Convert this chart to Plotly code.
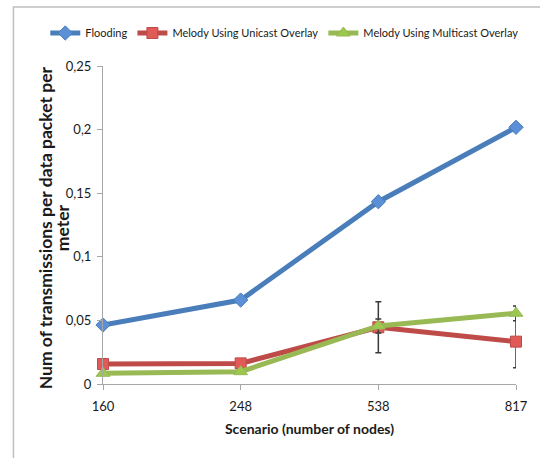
import plotly.graph_objects as go

categories = ["160", "248", "538", "817"]
flooding = [0.0464, 0.066, 0.1433, 0.2018]
flooding_err = [0.0, 0.0, 0.0, 0.003]
unicast = [0.0157, 0.0162, 0.0446, 0.0333]
unicast_err = [0.0, 0.0, 0.020, 0.0205]
multicast = [0.0084, 0.0097, 0.0456, 0.0556]
multicast_err = [0.0, 0.0, 0.0055, 0.0058]
y_tickvals = [0, 0.05, 0.1, 0.15, 0.2, 0.25]
y_ticktext = ["0", "0,05", "0,1", "0,15", "0,2", "0,25"]
y_title_lines = ["Num of transmissions per data packet per", "meter"]
x_title = "Scenario (number of nodes)"

W, H = 540, 458
L, R, T, B = 103, 22, 66, 74
pw, ph = W - L - R, H - T - B

FONT = "Lato"

def px_x(x):
    return (x - L) / pw

def px_y(y):
    return (H - B - y) / ph

def series(name, y, err, line_color, marker_color, symbol, size):
    return go.Scatter(
        x=categories, y=y, name=name, mode="lines+markers",
        line=dict(color=line_color, width=5),
        marker=dict(color=marker_color, symbol=symbol, size=size,
                    line=dict(color=line_color, width=1)),
        error_y=dict(type="data", array=err, visible=True,
                     color="#3a3a3a", thickness=1.5, width=3),
        cliponaxis=False,
    )

fig = go.Figure()
fig.add_trace(series("Flooding", flooding, flooding_err, "#4a7ebb", "#5b8fd6", "diamond", 11))
fig.add_trace(series("Melody Using Unicast Overlay", unicast, unicast_err, "#be4b48", "#e05a58", "square", 11))
fig.add_trace(series("Melody Using Multicast Overlay", multicast, multicast_err, "#98b954", "#9bc94f", "triangle-up", 12))

fig.update_layout(
    width=W, height=H,
    margin=dict(l=L, r=R, t=T, b=B),
    paper_bgcolor="white", plot_bgcolor="white",
    font=dict(family=FONT, size=12, color="#1a1a1a"),
    showlegend=True,
    legend=dict(orientation="h", xref="paper", yref="paper",
                x=px_x(45), xanchor="left", y=px_y(33), yanchor="middle",
                font=dict(family=FONT, size=11, color="#1a1a1a"), itemwidth=30, tracegroupgap=0,
                bgcolor="rgba(0,0,0,0)"),
    xaxis=dict(type="category", range=[0, 3], showgrid=False, zeroline=False,
               showline=True, linecolor="#a6a6a6", linewidth=1,
               ticks="outside", ticklen=5, tickcolor="#a6a6a6",
               ticklabelstandoff=5,
               tickfont=dict(family=FONT, size=13, color="#1a1a1a"),
               title=dict(text="<b>" + x_title + "</b>", font=dict(family=FONT, size=14, color="#1a1a1a"), standoff=11)),
    yaxis=dict(range=[0, 0.25], showgrid=False, zeroline=False,
               showline=True, linecolor="#a6a6a6", linewidth=1,
               ticks="outside", ticklen=5, tickcolor="#a6a6a6",
               ticklabelstandoff=3,
               tickvals=y_tickvals, ticktext=y_ticktext,
               tickfont=dict(family=FONT, size=13, color="#1a1a1a")),
)

for line_text, xpx in zip(y_title_lines, [45, 62]):
    fig.add_annotation(
        text="<b>" + line_text + "</b>",
        textangle=-90, xref="paper", yref="paper",
        x=px_x(xpx), y=px_y(228), xanchor="center", yanchor="middle",
        showarrow=False, font=dict(family=FONT, size=17.5, color="#1a1a1a"),
    )

# outer chart frame (cropped on right and bottom)
fig.add_shape(type="rect", xref="paper", yref="paper",
              x0=px_x(13), x1=px_x(560),
              y0=px_y(470), y1=px_y(7),
              line=dict(color="#bfbfbf", width=1.5), layer="below")

fig.write_html(
    "out.html",
    config={"displayModeBar": False},
    post_script="document.body.style.margin='0';document.body.style.overflow='hidden';",
)
